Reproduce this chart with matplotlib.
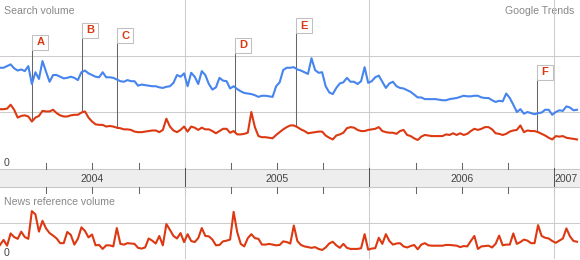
import numpy as np
import matplotlib
matplotlib.use("Agg")
import matplotlib.pyplot as plt
import matplotlib.transforms as mtransforms
from matplotlib.patches import Rectangle

plt.rcParams['font.family'] = ['Liberation Sans', 'DejaVu Sans']

# ---------------- data (weekly, starting Jan 2004) ----------------
start_year = 2004.0
week_in_years = 7 / 365.25

# search volume, term 1 (blue)
search_term1 = [
    1.79, 1.79, 1.82, 1.85, 1.78, 1.74, 1.76, 1.73, 1.82, 1.50,
    1.71, 1.59, 1.91, 1.72, 1.54, 1.66, 1.66, 1.63, 1.60, 1.61,
    1.63, 1.61, 1.57, 1.71, 1.74, 1.69, 1.66, 1.63, 1.62, 1.71,
    1.62, 1.62, 1.61, 1.58, 1.55, 1.54, 1.57, 1.55, 1.55, 1.47,
    1.49, 1.48, 1.47, 1.46, 1.46, 1.44, 1.43, 1.45, 1.46, 1.52,
    1.66, 1.63, 1.69, 1.46, 1.70, 1.63, 1.50, 1.73, 1.66, 1.50,
    1.40, 1.44, 1.61, 1.56, 1.55, 1.42, 1.46, 1.41, 1.37, 1.34,
    1.33, 1.32, 1.30, 1.27, 1.29, 1.29, 1.28, 1.27, 1.46, 1.53,
    1.75, 1.79, 1.79, 1.80, 1.76, 1.74, 1.71, 1.68, 1.96, 1.75,
    1.70, 1.71, 1.46, 1.35, 1.32, 1.43, 1.51, 1.53, 1.61, 1.54,
    1.54, 1.50, 1.55, 1.80, 1.52, 1.55, 1.62, 1.65, 1.54, 1.43,
    1.51, 1.54, 1.46, 1.43, 1.42, 1.39, 1.36, 1.31, 1.26, 1.26,
    1.23, 1.23, 1.23, 1.23, 1.22, 1.21, 1.21, 1.23, 1.24, 1.25,
    1.27, 1.29, 1.28, 1.28, 1.29, 1.29, 1.26, 1.25, 1.25, 1.21,
    1.18, 1.20, 1.19, 1.33, 1.25, 1.13, 1.00, 1.05, 0.97, 1.00,
    0.98, 0.96, 0.98, 0.99, 1.04, 1.04, 0.95, 1.00, 1.03, 1.02,
    1.10, 1.08, 1.03, 1.04,
]

# search volume, term 2 (red)
search_term2 = [
    1.05, 1.05, 1.06, 1.13, 1.04, 0.90, 0.93, 0.94, 0.92, 0.83,
    0.90, 0.93, 1.02, 1.01, 1.01, 1.04, 0.98, 0.94, 0.92, 0.92,
    0.94, 0.95, 0.95, 0.99, 1.01, 0.90, 0.83, 0.78, 0.77, 0.77,
    0.74, 0.75, 0.74, 0.72, 0.71, 0.69, 0.69, 0.68, 0.65, 0.64,
    0.64, 0.65, 0.66, 0.67, 0.67, 0.64, 0.68, 0.88, 0.74, 0.67,
    0.64, 0.68, 0.74, 0.65, 0.74, 0.72, 0.68, 0.72, 0.69, 0.69,
    0.66, 0.62, 0.66, 0.70, 0.70, 0.63, 0.66, 0.60, 0.60, 0.61,
    0.63, 1.00, 0.73, 0.57, 0.55, 0.55, 0.54, 0.53, 0.59, 0.64,
    0.69, 0.73, 0.76, 0.76, 0.73, 0.69, 0.66, 0.62, 0.63, 0.64,
    0.65, 0.65, 0.58, 0.54, 0.51, 0.58, 0.60, 0.63, 0.71, 0.73,
    0.72, 0.68, 0.66, 0.66, 0.68, 0.69, 0.70, 0.73, 0.66, 0.64,
    0.63, 0.63, 0.61, 0.66, 0.68, 0.59, 0.57, 0.53, 0.50, 0.56,
    0.59, 0.58, 0.57, 0.57, 0.57, 0.57, 0.60, 0.59, 0.62, 0.59,
    0.62, 0.59, 0.61, 0.66, 0.70, 0.68, 0.70, 0.73, 0.73, 0.69,
    0.62, 0.61, 0.59, 0.61, 0.65, 0.67, 0.68, 0.76, 0.64, 0.67,
    0.66, 0.66, 0.64, 0.61, 0.58, 0.54, 0.51, 0.57, 0.56, 0.57,
    0.54, 0.53, 0.52, 0.51,
]

# news reference volume, term 2 (red)
news_term2 = [
    0.39, 0.53, 0.37, 0.71, 0.61, 0.56, 0.76, 0.61, 0.56, 1.33,
    1.24, 0.76, 1.06, 0.85, 0.72, 0.65, 0.57, 0.44, 0.44, 0.75,
    0.67, 0.40, 0.56, 0.88, 0.78, 0.60, 0.68, 0.38, 0.39, 0.28,
    0.38, 0.38, 0.35, 0.86, 0.42, 0.40, 0.44, 0.43, 0.42, 0.31,
    0.29, 0.32, 0.57, 0.51, 0.43, 0.64, 0.38, 0.97, 0.81, 0.64,
    0.57, 0.72, 0.47, 0.69, 0.50, 0.47, 0.58, 0.86, 0.64, 0.63,
    0.54, 0.38, 0.39, 0.49, 0.51, 0.54, 1.31, 0.75, 0.42, 0.35,
    0.58, 0.69, 0.58, 0.56, 0.40, 0.40, 0.42, 0.40, 0.38, 0.39,
    0.49, 0.47, 0.43, 0.93, 0.50, 0.39, 0.35, 0.33, 0.31, 0.33,
    0.28, 0.25, 0.32, 0.43, 0.48, 0.38, 0.31, 0.42, 0.31, 0.28,
    0.28, 0.28, 0.30, 0.69, 0.26, 0.29, 0.30, 0.59, 0.42, 0.69,
    0.50, 0.40, 0.43, 0.44, 0.35, 0.32, 0.36, 0.39, 0.27, 0.40,
    0.44, 0.38, 0.37, 0.37, 0.37, 0.37, 0.39, 0.39, 0.38, 0.37,
    0.33, 0.36, 0.35, 0.50, 0.64, 0.28, 0.35, 0.36, 0.37, 0.32,
    0.42, 0.65, 0.38, 0.40, 0.40, 0.71, 0.42, 0.47, 0.54, 0.51,
    0.44, 0.44, 0.94, 0.64, 0.59, 0.57, 0.50, 0.45, 0.51, 0.57,
    0.85, 0.63, 0.50, 0.48,
]

years = [2004, 2005, 2006, 2007]
quarters = [2004.25, 2004.5, 2004.75, 2005.25, 2005.5, 2005.75,
            2006.25, 2006.5, 2006.75]

event_letters = ['A', 'B', 'C', 'D', 'E', 'F']
event_dates = [2004.175, 2004.446, 2004.635, 2005.273, 2005.602, 2006.907]

# ---------------- layout / style ----------------
flag_bottoms = [2.11, 2.33, 2.23, 2.06, 2.41, 1.58]
BLUE = '#4684ee'
RED = '#dc3912'
GRID = '#cccccc'
W, H = 580, 260
FS = 7.6

x_weeks = start_year + np.arange(len(search_term1)) * week_in_years

fig = plt.figure(figsize=(W / 100, H / 100), dpi=100)
fig.patch.set_facecolor('white')


def px_rect(top, bottom):
    return [0, 1 - bottom / H, 1, (bottom - top) / H]


bg = fig.add_axes([0, 0, 1, 1], zorder=0)
bg.set_xlim(0, W)
bg.set_ylim(H, 0)
bg.axis('off')

ax_top = fig.add_axes(px_rect(0, 168), zorder=1)
ax_bot = fig.add_axes(px_rect(187, 259), zorder=1)
xlim = (2004.0, 2007.14)
for ax in (ax_top, ax_bot):
    ax.set_xlim(*xlim)
    ax.patch.set_visible(False)
    ax.axis('off')
ax_top.set_ylim(0, 3)
ax_bot.set_ylim(0, 2)

# horizontal grid
for v in (1, 2):
    ax_top.axhline(v, color=GRID, lw=0.75, zorder=0.5)
ax_bot.axhline(1, color=GRID, lw=0.75, zorder=0.5)

# band with year labels
bg.add_patch(Rectangle((0, 169), W, 18, fc='#eeeeee', ec='none', zorder=1))
bg.plot([0, W], [169, 169], color='#c8c8c8', lw=0.75, zorder=1.5)
bg.plot([0, W], [187, 187], color='#c8c8c8', lw=0.75, zorder=1.5)

trans = mtransforms.blended_transform_factory(ax_top.transData, bg.transData)
for y in years:
    if xlim[0] < y < xlim[1]:
        ax_top.axvline(y, color=GRID, lw=0.75, zorder=0.5)
        ax_bot.axvline(y, color=GRID, lw=0.75, zorder=0.5)
        bg.plot([y, y], [163, 193], transform=trans, color='#555555', lw=0.75, zorder=2)
for q in quarters:
    bg.plot([q, q], [163, 169], transform=trans, color='#666666', lw=0.75, zorder=2)
    bg.plot([q, q], [187, 193], transform=trans, color='#666666', lw=0.75, zorder=2)
for y in years:
    mid = y + 0.5
    if mid < xlim[1]:
        bg.text(mid, 178.5, str(y), transform=trans, ha='center', va='center',
                fontsize=FS, color='#444444', zorder=3)
    else:
        bg.text(W - 2, 178.5, str(y), ha='right', va='center',
                fontsize=FS, color='#444444', zorder=3)

# texts
bg.text(4, 11, 'Search volume', fontsize=FS, color='#888888', va='center', ha='left')
bg.text(574, 11, 'Google Trends', fontsize=FS, color='#888888', va='center', ha='right')
bg.text(4, 202, 'News reference volume', fontsize=FS, color='#888888', va='center', ha='left')
bg.text(4, 162.5, '0', fontsize=FS, color='#444444', va='center', ha='left')
bg.text(4, 253, '0', fontsize=FS, color='#444444', va='center', ha='left')

# series
ax_top.plot(x_weeks, search_term1, color=BLUE, lw=1.5, solid_joinstyle='round', zorder=3)
ax_top.plot(x_weeks, search_term2, color=RED, lw=1.5, solid_joinstyle='round', zorder=3)
ax_bot.plot(x_weeks, news_term2, color=RED, lw=1.5, solid_joinstyle='round', zorder=3)

# event flags
ident = mtransforms.IdentityTransform()
for letter, d, fb in zip(event_letters, event_dates, flag_bottoms):
    y_line = np.interp(d, x_weeks, search_term2)
    ax_top.plot([d, d], [y_line, fb], color='#666666', lw=0.75, zorder=2.5)
    px, py = ax_top.transData.transform((d, fb))
    fig.add_artist(Rectangle((px + 1, py - 1), 16, 15, transform=ident,
                             fc='#b8b8b8', ec='none', zorder=5))
    fig.add_artist(Rectangle((px, py), 16, 15, transform=ident,
                             fc='white', ec='#c0c0c0', lw=0.75, zorder=6))
    fig.text(px + 8, py + 7.5, letter, transform=ident, color=RED, fontsize=8,
             fontweight='bold', ha='center', va='center', zorder=7)

fig.savefig('out.png', dpi=100)
